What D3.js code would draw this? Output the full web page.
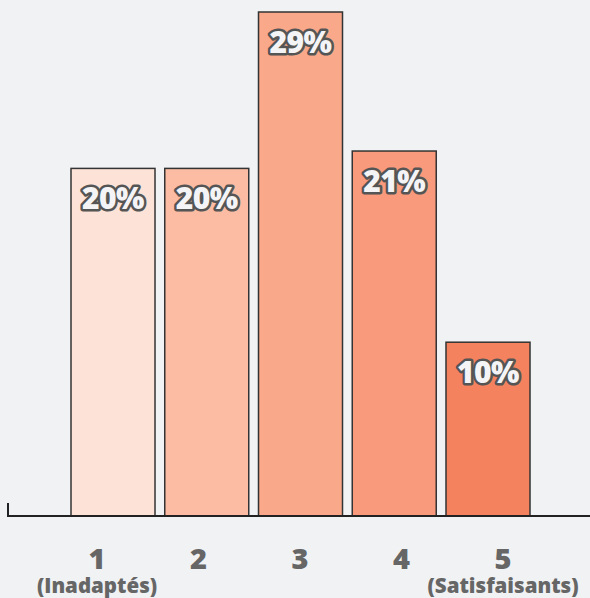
<!DOCTYPE html>
<html><head><meta charset="utf-8">
<script src="https://cdn.jsdelivr.net/npm/d3@7"></script>
<style>html,body{margin:0;padding:0;background:#f1f2f4;}</style>
</head><body><svg id="c" width="590" height="598"></svg>
<script>
const categories = ["1","2","3","4","5"];
const subLabels = ["(Inadaptés)","","","","(Satisfaisants)"];
const values = [20,20,29,21,10];
const valueLabels = ["20%","20%","29%","21%","10%"];
const colors = ["#fde3d7","#fbbca3","#f9a889","#f89a7b","#f4825f"];

const svg = d3.select("#c");
svg.append("rect").attr("width",590).attr("height",598).attr("fill","#f1f2f4");
const x = d3.scaleBand().domain(categories).range([71,530]).paddingInner(0.104).paddingOuter(0);
const y = d3.scaleLinear().domain([0,29]).range([516,12]);
const xl = d3.scalePoint().domain(categories).range([97,503]);

svg.selectAll("rect.bar").data(values).join("rect").attr("class","bar")
  .attr("x",(d,i)=>x(categories[i])).attr("y",d=>y(d))
  .attr("width",x.bandwidth()).attr("height",d=>y(0)-y(d))
  .attr("fill",(d,i)=>colors[i]).attr("stroke","#333").attr("stroke-width",1.5);

svg.append("path").attr("d","M8,503V516H590").attr("fill","none").attr("stroke","#222").attr("stroke-width",2);

svg.selectAll("text.val").data(values).join("text").attr("class","val")
  .attr("x",(d,i)=>x(categories[i])+x.bandwidth()/2).attr("y",d=>y(d)+41)
  .attr("text-anchor","middle").attr("font-family","Open Sans").attr("font-weight",800)
  .attr("font-size",30).attr("letter-spacing",-0.5)
  .attr("fill","#f4f4f6").attr("stroke","#555").attr("stroke-width",5).attr("stroke-linejoin","round")
  .attr("paint-order","stroke").text((d,i)=>valueLabels[i]);

svg.selectAll("text.cat").data(categories).join("text").attr("class","cat")
  .attr("x",d=>xl(d)).attr("y",569).attr("text-anchor","middle")
  .attr("font-family","Open Sans").attr("font-weight",800).attr("font-size",29).attr("fill","#666")
  .text(d=>d);
svg.selectAll("text.sub").data(subLabels).join("text").attr("class","sub")
  .attr("x",(d,i)=>xl(categories[i])).attr("y",593).attr("text-anchor","middle")
  .attr("font-family","Open Sans").attr("font-weight",800).attr("font-size",20.5).attr("fill","#666")
  .text(d=>d);
</script></body></html>
